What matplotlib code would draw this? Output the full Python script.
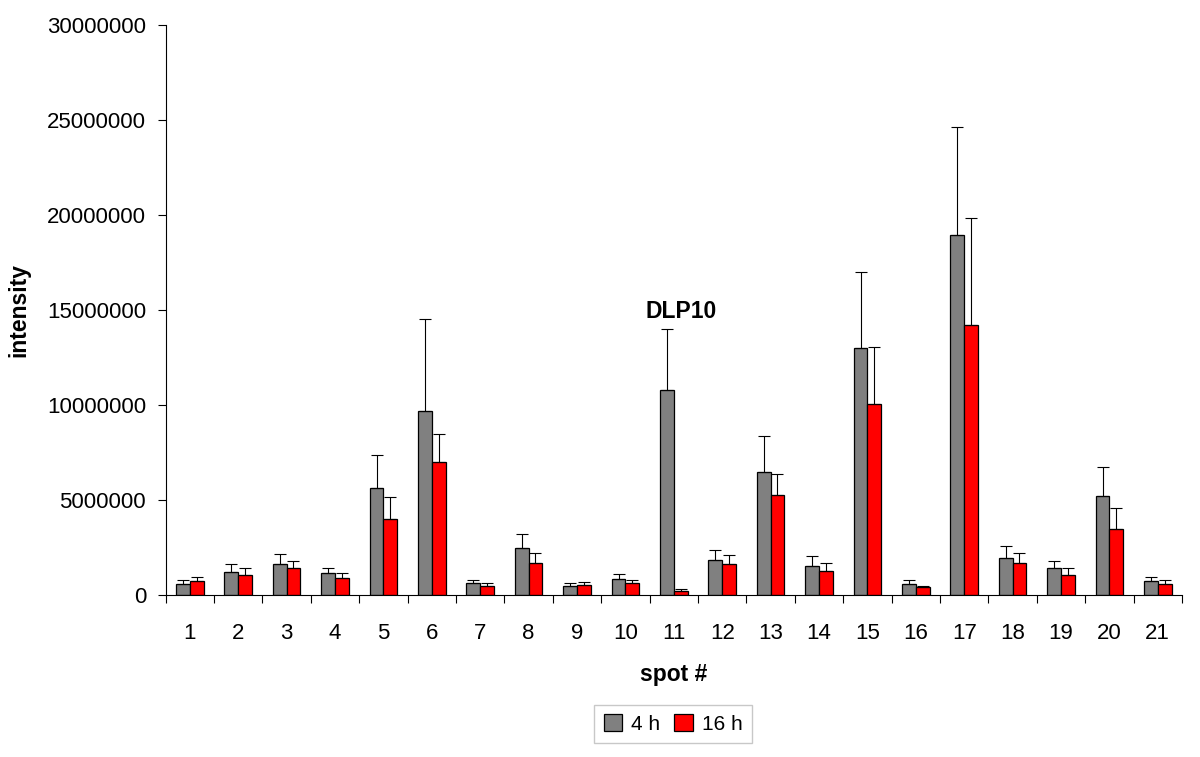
import numpy as np
import matplotlib.pyplot as plt

plt.rcParams['font.family'] = ['Liberation Sans', 'DejaVu Sans']

# datos
spots = [str(i) for i in range(1, 22)]
h4 = [0.58, 1.23, 1.63, 1.14, 5.65, 9.68, 0.61, 2.46, 0.47, 0.83, 10.79,
      1.84, 6.46, 1.54, 13.0, 0.56, 18.95, 1.96, 1.40, 5.19, 0.72]
h4_err = [0.22, 0.42, 0.53, 0.30, 1.70, 4.82, 0.16, 0.73, 0.14, 0.26, 3.21,
          0.53, 1.91, 0.51, 4.00, 0.21, 5.68, 0.60, 0.41, 1.55, 0.21]
h16 = [0.72, 1.07, 1.40, 0.88, 4.02, 7.00, 0.50, 1.67, 0.53, 0.61, 0.21,
       1.63, 5.28, 1.28, 10.05, 0.42, 14.2, 1.68, 1.07, 3.49, 0.58]
h16_err = [0.22, 0.33, 0.39, 0.26, 1.16, 1.47, 0.15, 0.54, 0.14, 0.16, 0.11,
           0.47, 1.09, 0.40, 3.00, 0.08, 5.64, 0.53, 0.33, 1.09, 0.19]

h4 = np.array(h4) * 1e6
h4_err = np.array(h4_err) * 1e6
h16 = np.array(h16) * 1e6
h16_err = np.array(h16_err) * 1e6

fig = plt.figure(figsize=(12, 7.57), dpi=100)
ax = fig.add_axes([0.138, 0.214, 0.847, 0.753])

x = np.arange(len(spots))
w = 0.285
err_kw = dict(elinewidth=0.8, capsize=4, capthick=0.8, ecolor='black')
ax.bar(x - w/2, h4, w, color='#808080', edgecolor='black', linewidth=0.9,
       yerr=[np.zeros_like(h4_err), h4_err], error_kw=err_kw, label='4 h')
ax.bar(x + w/2, h16, w, color='#ff0000', edgecolor='black', linewidth=0.9,
       yerr=[np.zeros_like(h16_err), h16_err], error_kw=err_kw, label='16 h')

ax.text(x[10] + 0.15, h4[10] + h4_err[10] + 0.3e6, 'DLP10', ha='center', va='bottom',
        fontsize=16.5, fontweight='bold')

ax.set_xlim(-0.5, len(spots) - 0.5)
ax.set_ylim(0, 30000000)
ax.set_yticks(np.arange(0, 30000001, 5000000))
ax.set_yticklabels([str(v) for v in range(0, 30000001, 5000000)])
ax.set_xticks(x)
ax.set_xticklabels(spots)
ax.set_xticks(np.arange(-0.5, len(spots)), minor=True)
ax.tick_params(axis='x', which='major', length=0, pad=20, labelsize=16)
ax.tick_params(axis='x', which='minor', length=6, width=0.8, direction='out')
ax.tick_params(axis='y', length=6, width=0.8, direction='out', labelsize=16, pad=8)

for s in ['top', 'right']:
    ax.spines[s].set_visible(False)
for s in ['left', 'bottom']:
    ax.spines[s].set_linewidth(0.8)

ax.set_ylabel('intensity', fontsize=16.5, fontweight='bold', labelpad=12)
ax.set_xlabel('spot #', fontsize=16.5, fontweight='bold', labelpad=14)

leg = fig.legend(loc='center', bbox_to_anchor=(673/1200, 1 - 724/757), ncol=2,
                 fontsize=15, frameon=True, fancybox=False, edgecolor='#bbbbbb',
                 handlelength=0.9, handleheight=0.9, handletextpad=0.4,
                 columnspacing=0.7, borderpad=0.45)
leg.get_frame().set_linewidth(1.0)

fig.savefig('out.png', dpi=100)
